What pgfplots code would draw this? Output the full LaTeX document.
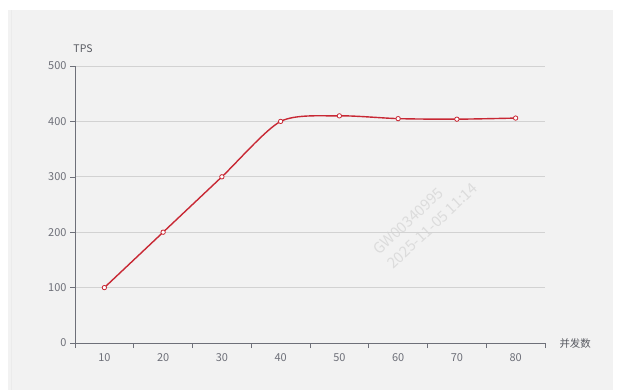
\documentclass[border=0pt]{standalone}
\usepackage{pgfplots}
\pgfplotsset{compat=1.18}
\usepackage{fontspec}
\setmainfont{Noto Sans CJK SC}
\definecolor{bgpanel}{RGB}{242,242,242}
\definecolor{axisgray}{RGB}{110,112,121}
\definecolor{gridgray}{RGB}{210,210,210}
\definecolor{linered}{RGB}{200,40,52}
\definecolor{wmgray}{RGB}{220,220,220}
\begin{document}
\begin{tikzpicture}[x=1bp,y=1bp]
\fill[white] (0,0) rectangle (632,390);
\fill[bgpanel] (8,0) rectangle (612.5,380);
\draw[white!92!black, line width=0.4bp] (11,0) -- (11,380);
\node[wmgray, rotate=43, font=\fontsize{15}{17}\selectfont, anchor=base west, inner sep=0pt] at (379,134) {GW00340995};
\node[wmgray, rotate=43, font=\fontsize{15}{17}\selectfont, anchor=base west, inner sep=0pt] at (393,120) {2025-11-05 11:14};
\begin{axis}[
  at={(75bp,47bp)}, anchor=south west,
  scale only axis, width=470bp, height=277bp,
  xmin=5, xmax=85, ymin=0, ymax=500,
  xtick={10,20,...,80},
  minor xtick={5,15,...,85},
  ytick={0,100,...,500},
  major x tick style={draw=none},
  minor tick length=5bp,
  major tick length=5bp,
  xtick align=outside, ytick align=outside,
  tick style={axisgray, line width=0.6bp},
  axis x line*=bottom, axis y line*=left,
  axis line style={axisgray, line width=0.8bp, -},
  ymajorgrids, grid style={gridgray, line width=0.7bp},
  tick label style={text=axisgray, font=\fontsize{11}{12}\selectfont},
  /pgf/number format/assume math mode=true,
  xticklabel style={yshift=-2bp},
  clip=false,
]
\addplot[linered, line width=1.4bp, smooth, tension=0.45,
  mark=*, mark size=2.2bp, mark options={fill=white, draw=linered, line width=0.8bp}]
  coordinates {(10,100) (20,200) (30,300) (40,400) (50,410) (60,405) (70,404) (80,406)};
\end{axis}
\node[text=axisgray!80!black, font=\fontsize{10.5}{12}\selectfont] at (83,341) {TPS};
\node[text=axisgray!80!black, font=\fontsize{10.5}{12}\selectfont, anchor=west] at (556,46) {并发数};
\end{tikzpicture}
\end{document}
